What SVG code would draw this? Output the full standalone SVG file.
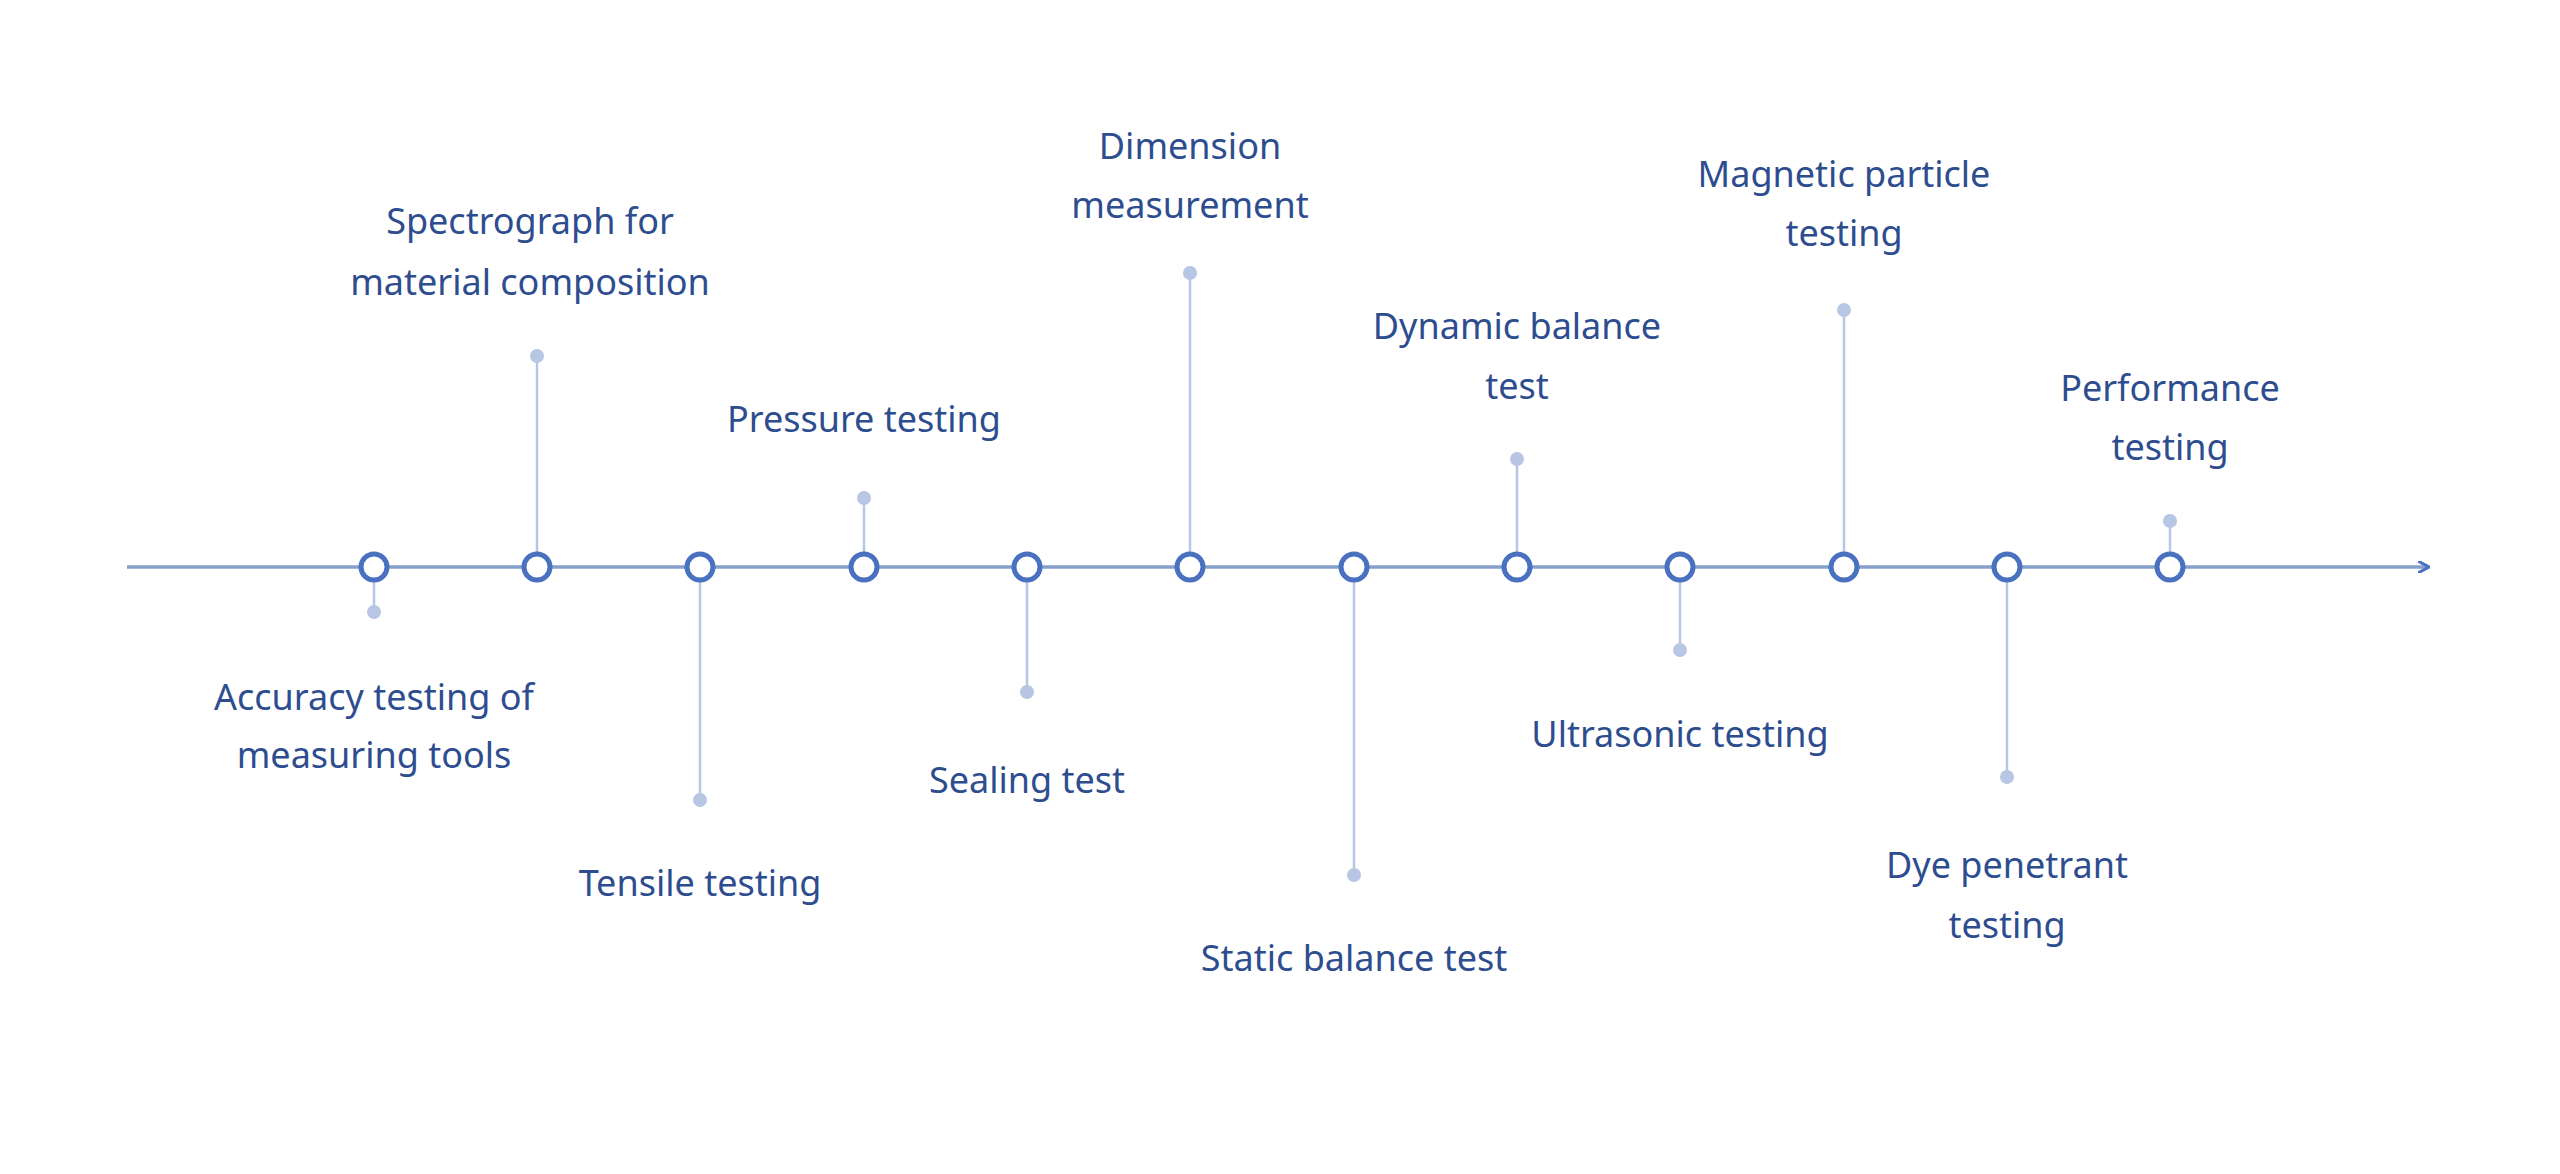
<svg xmlns="http://www.w3.org/2000/svg" width="2560" height="1174" viewBox="0 0 2560 1174">
<style>
.t{font-family:"Noto Sans","Open Sans",sans-serif;font-size:36px;fill:#2e4d8f;text-anchor:middle;dominant-baseline:central}
.s{stroke:#b7c6e2;stroke-width:2.5}
.d{fill:#b7c6e2}
.n{fill:#fff;stroke:#4a70c0;stroke-width:5}
</style>
<defs><marker id="a" markerWidth="12" markerHeight="12" refX="10" refY="6" orient="auto" markerUnits="userSpaceOnUse"><path d="M0,0 L11,6 L0,12" fill="none" stroke="#4a70c0" stroke-width="3"/></marker></defs>
<rect width="2560" height="1174" fill="#fff"/>
<g id="connectors">
<line x1="127" y1="567" x2="2428" y2="567" stroke="#86a0cc" stroke-width="3.5" marker-end="url(#a)"/>
<line class="s" x1="374" y1="567" x2="374" y2="612"/><circle class="d" cx="374" cy="612" r="7"/>
<line class="s" x1="537" y1="567" x2="537" y2="356"/><circle class="d" cx="537" cy="356" r="7"/>
<line class="s" x1="700" y1="567" x2="700" y2="800"/><circle class="d" cx="700" cy="800" r="7"/>
<line class="s" x1="864" y1="567" x2="864" y2="498"/><circle class="d" cx="864" cy="498" r="7"/>
<line class="s" x1="1027" y1="567" x2="1027" y2="692"/><circle class="d" cx="1027" cy="692" r="7"/>
<line class="s" x1="1190" y1="567" x2="1190" y2="273"/><circle class="d" cx="1190" cy="273" r="7"/>
<line class="s" x1="1354" y1="567" x2="1354" y2="875"/><circle class="d" cx="1354" cy="875" r="7"/>
<line class="s" x1="1517" y1="567" x2="1517" y2="459"/><circle class="d" cx="1517" cy="459" r="7"/>
<line class="s" x1="1680" y1="567" x2="1680" y2="650"/><circle class="d" cx="1680" cy="650" r="7"/>
<line class="s" x1="1844" y1="567" x2="1844" y2="310"/><circle class="d" cx="1844" cy="310" r="7"/>
<line class="s" x1="2007" y1="567" x2="2007" y2="777"/><circle class="d" cx="2007" cy="777" r="7"/>
<line class="s" x1="2170" y1="567" x2="2170" y2="521"/><circle class="d" cx="2170" cy="521" r="7"/>
</g>
<g id="n1"><circle class="n" cx="374" cy="567" r="13"/><text class="t" x="374" y="696">Accuracy testing of</text><text class="t" x="374" y="754">measuring tools</text></g>
<g id="n2"><circle class="n" cx="537" cy="567" r="13"/><text class="t" x="530" y="220">Spectrograph for</text><text class="t" x="530" y="281">material composition</text></g>
<g id="n3"><circle class="n" cx="700" cy="567" r="13"/><text class="t" x="700" y="882">Tensile testing</text></g>
<g id="n4"><circle class="n" cx="864" cy="567" r="13"/><text class="t" x="864" y="418">Pressure testing</text></g>
<g id="n5"><circle class="n" cx="1027" cy="567" r="13"/><text class="t" x="1027" y="779">Sealing test</text></g>
<g id="n6"><circle class="n" cx="1190" cy="567" r="13"/><text class="t" x="1190" y="145">Dimension</text><text class="t" x="1190" y="204">measurement</text></g>
<g id="n7"><circle class="n" cx="1354" cy="567" r="13"/><text class="t" x="1354" y="957">Static balance test</text></g>
<g id="n8"><circle class="n" cx="1517" cy="567" r="13"/><text class="t" x="1517" y="325">Dynamic balance</text><text class="t" x="1517" y="385">test</text></g>
<g id="n9"><circle class="n" cx="1680" cy="567" r="13"/><text class="t" x="1680" y="733">Ultrasonic testing</text></g>
<g id="n10"><circle class="n" cx="1844" cy="567" r="13"/><text class="t" x="1844" y="173">Magnetic particle</text><text class="t" x="1844" y="232">testing</text></g>
<g id="n11"><circle class="n" cx="2007" cy="567" r="13"/><text class="t" x="2007" y="864">Dye penetrant</text><text class="t" x="2007" y="924">testing</text></g>
<g id="n12"><circle class="n" cx="2170" cy="567" r="13"/><text class="t" x="2170" y="387">Performance</text><text class="t" x="2170" y="446">testing</text></g>
</svg>
